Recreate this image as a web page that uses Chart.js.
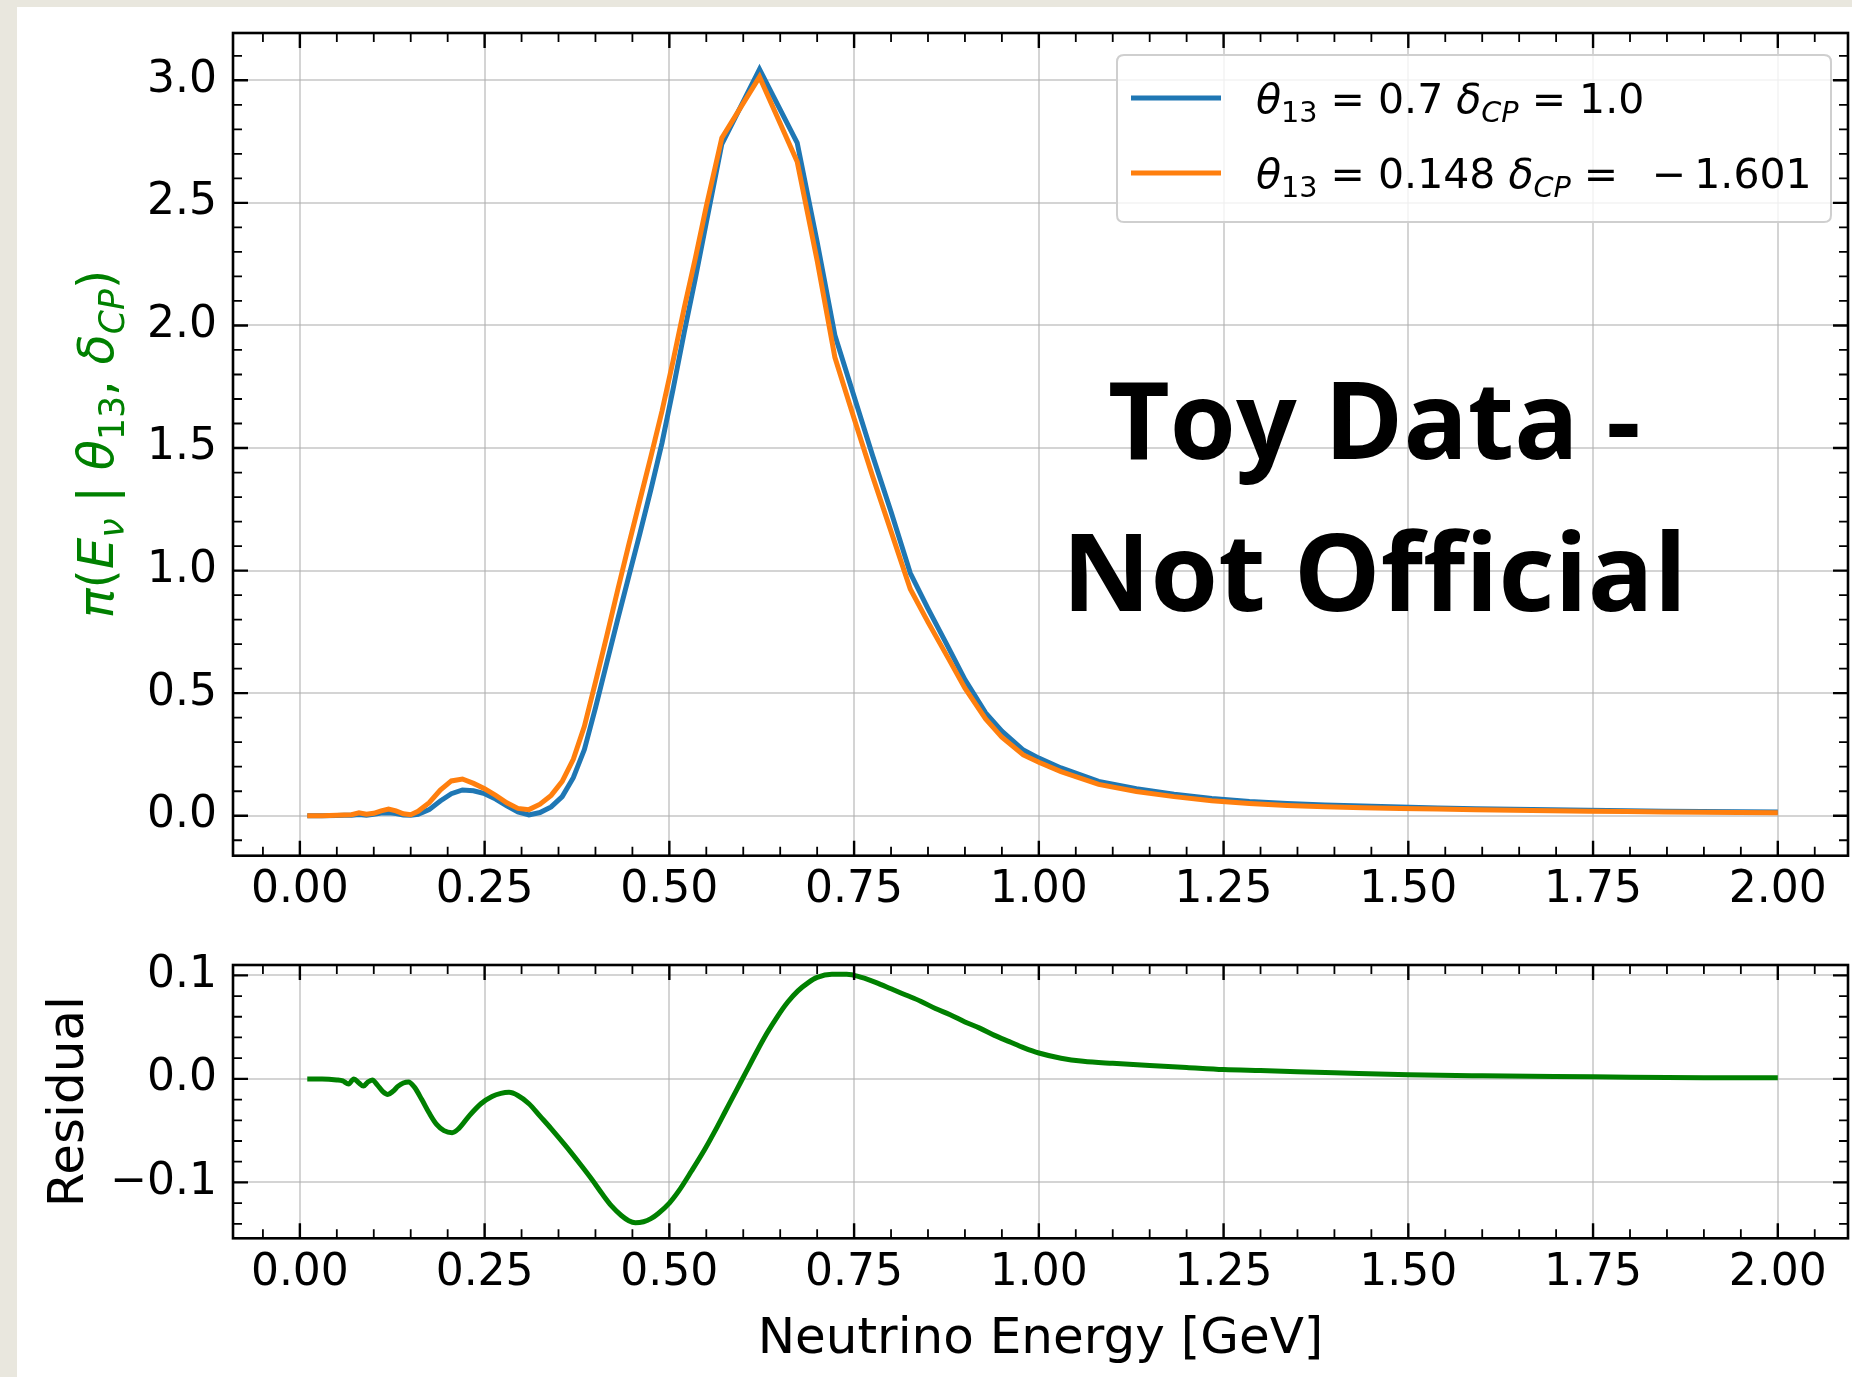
<!DOCTYPE html>
<html><head><meta charset="utf-8">
<script src="https://cdn.jsdelivr.net/npm/chart.js@4.4.1/dist/chart.umd.min.js"></script>
<style>
html,body{margin:0;padding:0;background:#e9e7de;width:1852px;height:1377px;overflow:hidden;}
#panel{position:absolute;left:17px;top:7px;width:1835px;height:1370px;background:#fff;}
canvas{position:absolute;left:0;top:0;}
</style></head><body>
<div id="panel"></div>
<canvas id="top" width="1852" height="1377"></canvas>
<canvas id="res" width="1852" height="1377"></canvas>
<script>
// ---------------- data ----------------
const energyTop = [0.010,0.030,0.050,0.060,0.070,0.080,0.090,0.100,0.110,0.120,
  0.130,0.140,0.150,0.160,0.175,0.190,0.205,0.220,0.235,0.250,
  0.265,0.280,0.295,0.310,0.325,0.340,0.355,0.370,0.385,0.400,
  0.415,0.430,0.445,0.460,0.475,0.490,0.505,0.520,0.535,0.550,
  0.571,0.622,0.673,0.700,0.724,0.750,0.775,0.800,0.826,0.850,
  0.877,0.900,0.928,0.950,0.979,1.000,1.030,1.081,1.132,1.183,
  1.234,1.285,1.336,1.387,1.438,1.489,1.540,1.591,1.642,1.693,
  1.744,1.795,1.846,1.897,1.948,2.000];
const blueValues = [0.000,0.000,0.001,0.002,0.002,0.005,0.002,0.006,0.011,0.012,
  0.009,0.003,0.002,0.006,0.025,0.060,0.090,0.105,0.102,0.090,
  0.068,0.040,0.016,0.003,0.013,0.036,0.078,0.155,0.270,0.440,
  0.620,0.800,0.975,1.150,1.330,1.520,1.740,1.970,2.190,2.420,
  2.740,3.045,2.745,2.340,1.960,1.710,1.470,1.240,0.990,0.845,
  0.690,0.555,0.420,0.345,0.268,0.235,0.195,0.140,0.110,0.088,
  0.070,0.058,0.050,0.044,0.040,0.036,0.032,0.029,0.026,0.024,
  0.022,0.020,0.018,0.017,0.016,0.015];
const orangeValues = [0.000,0.000,0.002,0.003,0.004,0.012,0.006,0.010,0.020,0.027,
  0.020,0.008,0.004,0.018,0.053,0.105,0.142,0.150,0.132,0.110,
  0.083,0.053,0.030,0.025,0.047,0.083,0.140,0.230,0.365,0.545,
  0.730,0.920,1.105,1.285,1.465,1.650,1.855,2.070,2.272,2.486,
  2.765,3.014,2.668,2.265,1.870,1.620,1.385,1.160,0.925,0.790,
  0.645,0.520,0.395,0.320,0.248,0.218,0.180,0.128,0.099,0.078,
  0.061,0.050,0.042,0.037,0.033,0.030,0.027,0.024,0.022,0.020,
  0.018,0.017,0.015,0.014,0.013,0.012];
const energyResidual = [0.010,0.030,0.050,0.058,0.066,0.073,0.080,0.086,0.092,0.098,
  0.105,0.112,0.119,0.126,0.133,0.140,0.147,0.155,0.165,0.175,
  0.185,0.195,0.206,0.215,0.230,0.245,0.260,0.272,0.283,0.295,
  0.310,0.325,0.340,0.360,0.380,0.395,0.410,0.422,0.435,0.445,
  0.454,0.465,0.475,0.485,0.500,0.513,0.530,0.548,0.562,0.576,
  0.590,0.604,0.618,0.632,0.646,0.660,0.674,0.688,0.700,0.720,
  0.740,0.760,0.780,0.800,0.820,0.840,0.860,0.880,0.900,0.920,
  0.940,0.960,0.980,1.000,1.030,1.060,1.100,1.150,1.200,1.250,
  1.300,1.400,1.500,1.600,1.750,1.900,2.000];
const residualValues = [0.000,0.000,-0.001,-0.002,-0.005,0.000,-0.004,-0.007,-0.003,-0.001,
  -0.006,-0.012,-0.015,-0.012,-0.007,-0.004,-0.003,-0.008,-0.020,-0.033,
  -0.044,-0.050,-0.052,-0.048,-0.035,-0.024,-0.017,-0.014,-0.013,-0.016,
  -0.024,-0.036,-0.048,-0.065,-0.083,-0.097,-0.112,-0.123,-0.132,-0.137,
  -0.139,-0.138,-0.135,-0.130,-0.120,-0.108,-0.089,-0.068,-0.050,-0.031,
  -0.012,0.007,0.026,0.044,0.060,0.074,0.085,0.093,0.098,0.101,
  0.101,0.098,0.093,0.087,0.081,0.075,0.068,0.062,0.055,0.049,
  0.042,0.036,0.030,0.025,0.020,0.017,0.015,0.013,0.011,0.009,
  0.008,0.006,0.004,0.003,0.002,0.001,0.001];

const xTickValues = [0.00,0.25,0.50,0.75,1.00,1.25,1.50,1.75,2.00];
const topYTickValues = [0.0,0.5,1.0,1.5,2.0,2.5,3.0];
const resYTickValues = [-0.1,0.0,0.1];
const seriesLabels = ['θ13 = 0.7 δCP = 1.0', 'θ13 = 0.148 δCP = −1.601'];
const xTitle = 'Neutrino Energy [GeV]';
const resTitle = 'Residual';
const watermarkLines = ['Toy Data -', 'Not Official'];
// math-text pieces: [text, style]  style: '' normal, 'i' italic, 's' subscript, 'si' italic subscript
const legendMath = [
  [['θ','i'],['13','s'],[' = ',''],['0.7',''],[' ',''],['δ','i'],['CP','si'],[' = ',''],['1.0','']],
  [['θ','i'],['13','s'],[' = ',''],['0.148',''],[' ',''],['δ','i'],['CP','si'],[' = \u2002',''],['−\u20091.601','']]
];
const yLabelMath = [['π','i'],['(',''],['E','i'],['ν','si'],[' | ',''],['θ','i'],['13','s'],[', ',''],['δ','i'],['CP','si'],[')','']];

// ---------------- helpers ----------------
const FONT = "'DejaVu Sans', sans-serif";
const GRID = 'rgba(176,176,176,0.55)';
const pts = (xs, ys) => xs.map((x, i) => ({x: x, y: ys[i]}));
function mathFont(style, size) {
  const sub = style.indexOf('s') >= 0, it = style.indexOf('i') >= 0;
  return (it ? 'italic ' : '') + (sub ? size * 0.7 : size) + 'px ' + FONT;
}
function measureMath(ctx, parts, size) {
  let w = 0;
  for (const [t, s] of parts) { ctx.font = mathFont(s, size); w += ctx.measureText(t).width; }
  return w;
}
function drawMath(ctx, parts, x, y, size, color) {
  ctx.fillStyle = color; ctx.textAlign = 'left'; ctx.textBaseline = 'alphabetic';
  let cx = x;
  for (const [t, s] of parts) {
    ctx.font = mathFont(s, size);
    const dy = s.indexOf('s') >= 0 ? size * 0.22 : 0;
    ctx.fillText(t, cx, y + dy);
    cx += ctx.measureText(t).width;
  }
}
function drawFrame(chart, minorX, minorY) {
  const {ctx, chartArea: a, scales: {x, y}} = chart;
  ctx.save();
  ctx.strokeStyle = '#000';
  const each = (scale, step, fn) => {
    const s = Math.ceil(scale.min / step - 1e-9), e = Math.floor(scale.max / step + 1e-9);
    for (let k = s; k <= e; k++) fn(scale.getPixelForValue(k * step), Math.abs(k) % 5 === 0);
  };
  for (const major of [false, true]) {
    const len = major ? 15 : 9;
    ctx.lineWidth = major ? 2.4 : 1.8;
    ctx.beginPath();
    each(x, minorX, (p, isMajor) => { if (isMajor !== major) return;
      ctx.moveTo(p, a.bottom); ctx.lineTo(p, a.bottom - len);
      ctx.moveTo(p, a.top); ctx.lineTo(p, a.top + len); });
    each(y, minorY, (p, isMajor) => { if (isMajor !== major) return;
      ctx.moveTo(a.left, p); ctx.lineTo(a.left + len, p);
      ctx.moveTo(a.right, p); ctx.lineTo(a.right - len, p); });
    ctx.stroke();
  }
  ctx.lineWidth = 2.6;
  ctx.strokeRect(a.left, a.top, a.right - a.left, a.bottom - a.top);
  ctx.restore();
}
function roundRect(ctx, x, y, w, h, r) {
  ctx.beginPath();
  ctx.moveTo(x + r, y); ctx.lineTo(x + w - r, y); ctx.quadraticCurveTo(x + w, y, x + w, y + r);
  ctx.lineTo(x + w, y + h - r); ctx.quadraticCurveTo(x + w, y + h, x + w - r, y + h);
  ctx.lineTo(x + r, y + h); ctx.quadraticCurveTo(x, y + h, x, y + h - r);
  ctx.lineTo(x, y + r); ctx.quadraticCurveTo(x, y, x + r, y); ctx.closePath();
}
function fitText(ctx, text, left, right, baseline) {
  const m = ctx.measureText(text);
  const ink = m.actualBoundingBoxLeft + m.actualBoundingBoxRight;
  const sc = (right - left) / ink;
  ctx.save();
  ctx.translate(left, baseline); ctx.scale(sc, 1);
  ctx.textAlign = 'left';
  ctx.fillText(text, m.actualBoundingBoxLeft, 0);
  ctx.restore();
}

Chart.defaults.font.family = FONT;
Chart.defaults.color = '#000';

const topDecor = {
  id: 'topDecor',
  afterDatasetsDraw(chart) {
    drawFrame(chart, 0.05, 0.1);
    const ctx = chart.ctx;
    // legend
    ctx.save();
    roundRect(ctx, 1117, 55, 714, 167, 7);
    ctx.fillStyle = 'rgba(255,255,255,0.8)'; ctx.fill();
    ctx.strokeStyle = '#cfcfcf'; ctx.lineWidth = 2; ctx.stroke();
    const colors = [chart.data.datasets[0].borderColor, chart.data.datasets[1].borderColor];
    const rowsY = [98, 173];
    for (let i = 0; i < 2; i++) {
      ctx.strokeStyle = colors[i]; ctx.lineWidth = 5; ctx.beginPath();
      ctx.moveTo(1131, rowsY[i]); ctx.lineTo(1221, rowsY[i]); ctx.stroke();
      drawMath(ctx, legendMath[i], 1256, rowsY[i] + 15, 41, '#000');
    }
    ctx.restore();
    // y label (math)
    ctx.save();
    ctx.translate(113, 444); ctx.rotate(-Math.PI / 2);
    const w = measureMath(ctx, yLabelMath, 49.5);
    drawMath(ctx, yLabelMath, -w / 2, 0, 49.5, '#008000');
    ctx.restore();
  },
  afterDraw(chart) {
    const ctx = chart.ctx;
    ctx.save();
    ctx.fillStyle = '#000'; ctx.textBaseline = 'alphabetic';
    ctx.font = "700 108px 'Open Sans'";
    fitText(ctx, watermarkLines[0], 1110, 1638, 459);
    fitText(ctx, watermarkLines[1], 1071, 1679, 611);
    ctx.restore();
  }
};
const resDecor = {
  id: 'resDecor',
  afterDatasetsDraw(chart) { drawFrame(chart, 0.05, 0.02); }
};

const tickFont = {family: FONT, size: 44};
const xScale = (titleOn, height, pad) => ({
  type: 'linear', min: -0.0905, max: 2.095,
  afterBuildTicks: s => { s.ticks = xTickValues.map(v => ({value: v})); },
  afterFit: s => { s.height = height; s.paddingLeft = 0; s.paddingRight = 0; },
  ticks: {callback: v => Number(v).toFixed(2), font: tickFont, color: '#000', padding: pad, autoSkip: false, maxRotation: 0},
  grid: {color: GRID, lineWidth: 2, drawTicks: false},
  border: {display: false},
  title: {display: titleOn, text: xTitle, font: {family: FONT, size: 50}, color: '#000', padding: {top: 0, bottom: 7}}
});
const yFit = s => { s.width = 233; s.paddingTop = 0; s.paddingBottom = 0; };

new Chart(document.getElementById('top'), {
  type: 'line',
  data: {datasets: [
    {label: seriesLabels[0], data: pts(energyTop, blueValues), borderColor: '#1f77b4', borderWidth: 5, pointRadius: 0, tension: 0, fill: false, order: 1},
    {label: seriesLabels[1], data: pts(energyTop, orangeValues), borderColor: '#ff7f0e', borderWidth: 5, pointRadius: 0, tension: 0, fill: false, order: 0}
  ]},
  options: {
    responsive: false, animation: false, devicePixelRatio: 1,
    layout: {padding: {left: 0, top: 33, right: 4, bottom: 441.3}},
    plugins: {legend: {display: false}, tooltip: {enabled: false}},
    scales: {
      x: xScale(false, 80, 8),
      y: {
        type: 'linear', min: -0.163, max: 3.193,
        afterBuildTicks: s => { s.ticks = topYTickValues.map(v => ({value: v})); },
        afterFit: yFit,
        ticks: {callback: v => Number(v).toFixed(1), font: tickFont, color: '#000', padding: 16},
        grid: {color: GRID, lineWidth: 2, drawTicks: false},
        border: {display: false}
      }
    }
  },
  plugins: [topDecor]
});

new Chart(document.getElementById('res'), {
  type: 'line',
  data: {datasets: [
    {label: resTitle, data: pts(energyResidual, residualValues), borderColor: '#008000', borderWidth: 5, pointRadius: 0, cubicInterpolationMode: 'monotone', fill: false}
  ]},
  options: {
    responsive: false, animation: false, devicePixelRatio: 1,
    layout: {padding: {left: 0, top: 965, right: 4, bottom: 0}},
    plugins: {legend: {display: false}, tooltip: {enabled: false}},
    scales: {
      x: xScale(true, 138.7, 9),
      y: {
        type: 'linear', min: -0.154, max: 0.110,
        afterBuildTicks: s => { s.ticks = resYTickValues.map(v => ({value: v})); },
        afterFit: yFit,
        ticks: {callback: v => (v < -1e-9 ? '−' : '') + Math.abs(Number(v)).toFixed(1), font: tickFont, color: '#000', padding: 16},
        grid: {color: GRID, lineWidth: 2, drawTicks: false},
        border: {display: false},
        title: {display: true, text: resTitle, font: {family: FONT, size: 50}, color: '#000', padding: {top: 40, bottom: 0}}
      }
    }
  },
  plugins: [resDecor]
});
</script></body></html>
